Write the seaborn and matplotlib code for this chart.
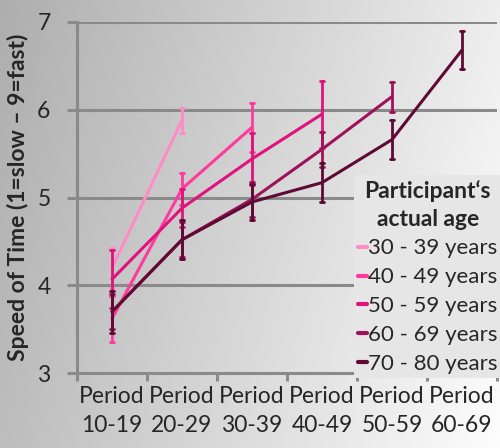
import numpy as np
import pandas as pd
import matplotlib
matplotlib.use("Agg")
import matplotlib.pyplot as plt
import seaborn as sns

# ---------------------------------------------------------------------------
# Data
# ---------------------------------------------------------------------------
periods = ["Period\n10-19", "Period\n20-29", "Period\n30-39",
           "Period\n40-49", "Period\n50-59", "Period\n60-69"]
groups = ["30 - 39 years", "40 - 49 years", "50 - 59 years",
          "60 - 69 years", "70 - 80 years"]

means_30 = [4.20, 5.88]
means_40 = [3.62, 5.10, 5.80]
means_50 = [4.07, 4.88, 5.44, 5.95]
means_60 = [3.70, 4.52, 4.98, 5.55, 6.15]
means_70 = [3.70, 4.52, 4.95, 5.17, 5.66, 6.68]

err_30 = [0.23, 0.14]
err_40 = [0.26, 0.18, 0.28]
err_50 = [0.33, 0.22, 0.30, 0.38]
err_60 = [0.20, 0.20, 0.20, 0.20, 0.17]
err_70 = [0.24, 0.22, 0.20, 0.22, 0.22, 0.22]

colors = ["#ff8cc6", "#ff3a9d", "#e0137c", "#9e1259", "#5e0a35"]

# long-form table: one low and one high row per point -> mean is the value,
# the 100% interval is the error bar
rows = []
for g, m, e in zip(groups,
                   [means_30, means_40, means_50, means_60, means_70],
                   [err_30, err_40, err_50, err_60, err_70]):
    for i, (v, d) in enumerate(zip(m, e)):
        rows.append({"period": periods[i], "group": g, "speed": v - d})
        rows.append({"period": periods[i], "group": g, "speed": v + d})
df = pd.DataFrame(rows)

# ---------------------------------------------------------------------------
# Plot
# ---------------------------------------------------------------------------
sns.set_style("white")
plt.rcParams["font.family"] = ["Lato", "DejaVu Sans"]

fig = plt.figure(figsize=(5.0, 4.48), dpi=100)

# gray gradient background
bg = fig.add_axes([0, 0, 1, 1], zorder=-10)
xx, yy = np.meshgrid(np.linspace(0, 1, 200), np.linspace(0, 1, 200))
shade = 0.68 + 0.25 * xx + 0.06 * yy
bg.imshow(shade, cmap="gray", vmin=0, vmax=1, aspect="auto",
          extent=[0, 1, 0, 1], origin="upper")
bg.axis("off")

ax = fig.add_axes([0.154, 0.167, 0.84, 0.784])
ax.patch.set_alpha(0)

sns.pointplot(data=df, x="period", y="speed", hue="group", order=periods,
              hue_order=groups, palette=colors, estimator="mean",
              errorbar=("pi", 100), capsize=0.07, markers="",
              linewidth=2.2, err_kws={"linewidth": 2.0}, ax=ax)

ax.set_ylim(3, 7)
ax.set_xlim(-0.5, 5.5)
ax.set_yticks([3, 4, 5, 6, 7])
ax.yaxis.grid(True, color="#8a8a8a", linewidth=2.2)
ax.set_axisbelow(True)
ax.set_xlabel("")
ax.set_ylabel("Speed of Time (1=slow – 9=fast)", fontsize=16.5,
              fontweight="bold", labelpad=6)

for side in ["top", "right"]:
    ax.spines[side].set_visible(False)
for side in ["left", "bottom"]:
    ax.spines[side].set_color("#8a8a8a")
    ax.spines[side].set_linewidth(2.2)

ax.tick_params(axis="y", length=7, width=2.2, color="#8a8a8a",
               labelsize=16.5, pad=12, left=True)
ax.tick_params(axis="x", which="major", length=0, labelsize=16.5, pad=9)
ax.set_xticks(np.arange(-0.5, 6.0, 1.0), minor=True)
ax.tick_params(axis="x", which="minor", length=6, width=2.2,
               color="#8a8a8a", bottom=True)

leg = ax.legend(title="Participant‘s\nactual age", loc="lower right",
                bbox_to_anchor=(1.012, -0.015), fontsize=16,
                title_fontproperties={"weight": "bold", "size": 16.5},
                frameon=True, handlelength=0.4, handletextpad=0.05,
                labelspacing=0.4, borderpad=0.2, borderaxespad=0)
leg.get_frame().set_facecolor("#e6e6e6")
leg.get_frame().set_edgecolor("none")
leg.get_frame().set_alpha(1)
for line in leg.get_lines():
    line.set_linewidth(3)

fig.canvas.draw()
for tick in ax.xaxis.get_major_ticks():
    tick.label1.set_linespacing(1.5)
title = leg.get_title()
title.set_multialignment("center")
title.set_linespacing(1.4)

fig.savefig("out.png", dpi=100)
